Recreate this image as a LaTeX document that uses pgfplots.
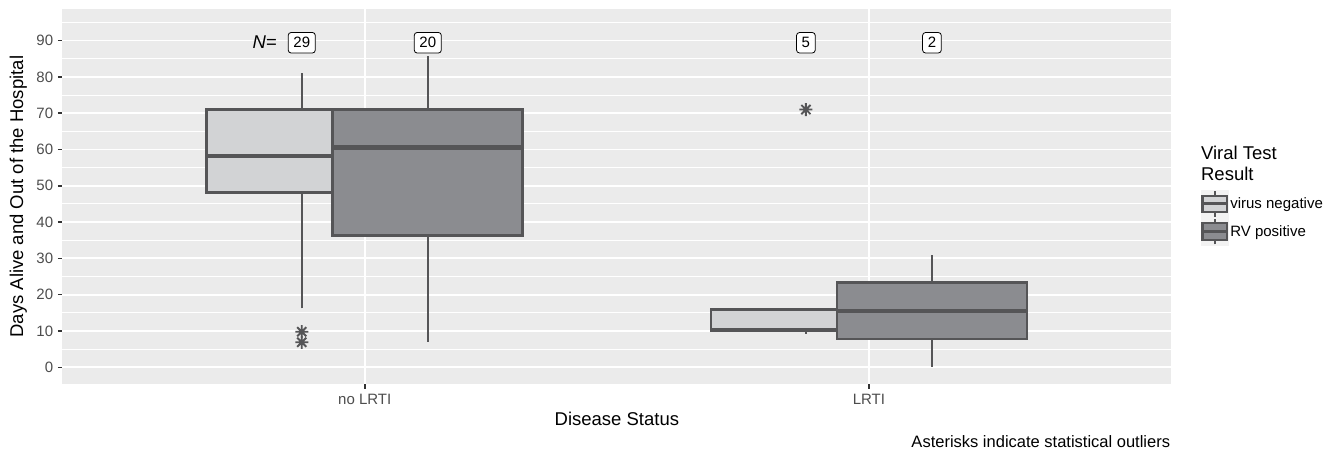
\documentclass[border=0pt]{standalone}
\usepackage{fontspec}
\setmainfont{Liberation Sans}
\usepackage{pgfplots}
\pgfplotsset{compat=1.18}
\definecolor{bggrey}{HTML}{EBEBEB}
\definecolor{lightc}{HTML}{D2D3D5}
\definecolor{darkc}{HTML}{8B8C90}
\definecolor{outline}{HTML}{555557}
\definecolor{tickgrey}{HTML}{4D4D4D}
\definecolor{tickmark}{HTML}{333333}
\definecolor{keybg}{HTML}{F2F2F2}

\pgfdeclareplotmark{star8}{%
  \pgfpathmoveto{\pgfqpoint{-\pgfplotmarksize}{0pt}}%
  \pgfpathlineto{\pgfqpoint{\pgfplotmarksize}{0pt}}%
  \pgfpathmoveto{\pgfqpoint{0pt}{-\pgfplotmarksize}}%
  \pgfpathlineto{\pgfqpoint{0pt}{\pgfplotmarksize}}%
  \pgfpathmoveto{\pgfqpoint{-0.7071\pgfplotmarksize}{-0.7071\pgfplotmarksize}}%
  \pgfpathlineto{\pgfqpoint{0.7071\pgfplotmarksize}{0.7071\pgfplotmarksize}}%
  \pgfpathmoveto{\pgfqpoint{-0.7071\pgfplotmarksize}{0.7071\pgfplotmarksize}}%
  \pgfpathlineto{\pgfqpoint{0.7071\pgfplotmarksize}{-0.7071\pgfplotmarksize}}%
  \pgfusepathqstroke}

\pgfplotsset{
  keybox/.style={legend image code/.code={%
    \fill[keybg] (0pt,-13.35pt) rectangle (26.7pt,13.35pt);
    \draw[outline, line width=2pt] (13.35pt,-12.8pt) -- (13.35pt,12.8pt);
    \draw[fill=#1, draw=outline, line width=2.3pt] (1.2pt,-8.3pt) rectangle (25.5pt,8.3pt);
    \draw[outline, line width=3pt] (1.2pt,0pt) -- (25.5pt,0pt);
  }},
  boxs/.style={draw=outline, line width=2.7pt, forget plot, line join=miter},
  whis/.style={draw=outline, line width=2.4pt, forget plot},
  med/.style={draw=outline, line width=4.6pt, forget plot},
}
\tikzset{
  nlab/.style={draw=black, line width=0.8pt, rounded corners=3pt, fill=white, inner xsep=5.2pt, inner ysep=5pt,
    font=\fontsize{15}{18}\selectfont},
}

\begin{document}
\begin{tikzpicture}
\path[use as bounding box] (0,0) rectangle (1343pt,452pt);
\begin{axis}[
  at={(62.3pt,67.7pt)}, anchor=south west,
  scale only axis, width=1109.1pt, height=375.3pt,
  xmin=0.4, xmax=2.6, ymin=-4.68, ymax=98.7,
  clip=false,
  axis background/.style={fill=bggrey},
  axis line style={draw=none},
  xtick={1,2}, xticklabels={no LRTI, LRTI},
  ytick={0,10,...,90}, minor ytick={5,15,...,95},
  grid=both,
  major grid style={white, line width=1.8pt},
  minor grid style={white, line width=0.9pt},
  tick pos=left, tick align=outside,
  major tick length=4.3pt, minor tick length=0pt,
  major tick style={line width=1.5pt, color=tickmark},
  /pgf/number format/assume math mode=true,
  tick label style={font=\fontsize{15}{18}\selectfont, text=tickgrey},
  yticklabel style={inner sep=0pt, xshift=-4.7pt},
  xticklabel style={inner sep=0pt, yshift=-5.7pt},
  xlabel={Disease Status},
  xlabel style={at={(axis description cs:0.5,-0.0925)}, anchor=center, font=\fontsize{18.5}{22}\selectfont},
  ylabel={Days Alive and Out of the Hospital},
  ylabel style={at={(axis description cs:-0.0397,0.5)}, anchor=center, font=\fontsize{18.5}{22}\selectfont},
  legend style={at={(axis description cs:1.0267,0.5172)}, anchor=north west, draw=none, fill=none,
    inner sep=0pt, outer sep=0pt, row sep=0pt, font=\fontsize{15}{18}\selectfont},
  legend cell align=left,
]
% ---- no LRTI, virus negative: lw 16.2, q1 48.1, med 58.2, q3 71.1, uw 81 (x 0.875, half width 0.1885)
\addplot[whis] coordinates {(0.875,71.1) (0.875,81)};
\addplot[whis] coordinates {(0.875,16.2) (0.875,48.1)};
\addplot[boxs, fill=lightc] coordinates {(0.6865,48.1) (1.0635,48.1) (1.0635,71.1) (0.6865,71.1)} -- cycle;
\addplot[med] coordinates {(0.6865,58.2) (1.0635,58.2)};
% ---- no LRTI, RV positive: lw 7.1, q1 36.3, med 60.5, q3 71.1, uw 85.8 (x 1.125)
\addplot[whis] coordinates {(1.125,71.1) (1.125,85.8)};
\addplot[whis] coordinates {(1.125,7.1) (1.125,36.3)};
\addplot[boxs, fill=darkc] coordinates {(0.9365,36.3) (1.3135,36.3) (1.3135,71.1) (0.9365,71.1)} -- cycle;
\addplot[med] coordinates {(0.9365,60.5) (1.3135,60.5)};
% ---- LRTI, virus negative: lw 9.2, q1 10.0, med 10.3, q3 16.0, uw 16.4 (x 1.875)
\addplot[whis] coordinates {(1.875,16.0) (1.875,16.4)};
\addplot[whis] coordinates {(1.875,9.2) (1.875,10.0)};
\addplot[boxs, fill=lightc] coordinates {(1.6865,10.0) (2.0635,10.0) (2.0635,16.0) (1.6865,16.0)} -- cycle;
\addplot[med] coordinates {(1.6865,10.3) (2.0635,10.3)};
% ---- LRTI, RV positive: lw 0.2, q1 7.8, med 15.5, q3 23.3, uw 30.9 (x 2.125)
\addplot[whis] coordinates {(2.125,23.3) (2.125,30.9)};
\addplot[whis] coordinates {(2.125,0.2) (2.125,7.8)};
\addplot[boxs, fill=darkc] coordinates {(1.9365,7.8) (2.3135,7.8) (2.3135,23.3) (1.9365,23.3)} -- cycle;
\addplot[med] coordinates {(1.9365,15.5) (2.3135,15.5)};
% outliers
\addplot[only marks, mark=star8, mark size=6.5pt, mark options={draw=outline, line width=1.9pt}, forget plot]
  coordinates {(0.875,9.8) (0.875,6.9) (1.875,71)};

\addlegendimage{keybox=lightc}
\addlegendentry{virus negative}
\addlegendimage{keybox=darkc}
\addlegendentry{RV positive}

% N labels
\node[font=\fontsize{18.5}{22}\selectfont, inner sep=0pt] at (axis cs:0.8016,89.7) {\textit{N}=};
\node[nlab] at (axis cs:0.875,89.4) {29};
\node[nlab] at (axis cs:1.125,89.4) {20};
\node[nlab] at (axis cs:1.875,89.4) {5};
\node[nlab] at (axis cs:2.125,89.4) {2};
% legend title
\node[anchor=west, align=left, inner sep=0pt, font=\fontsize{18.5}{20.7}\selectfont]
  at (axis description cs:1.0266,0.588) {Viral Test\\Result};
% caption
\node[anchor=east, inner sep=0pt, font=\fontsize{16.5}{20}\selectfont]
  at (axis description cs:0.999,-0.153) {Asterisks indicate statistical outliers};
\end{axis}
\end{tikzpicture}
\end{document}
